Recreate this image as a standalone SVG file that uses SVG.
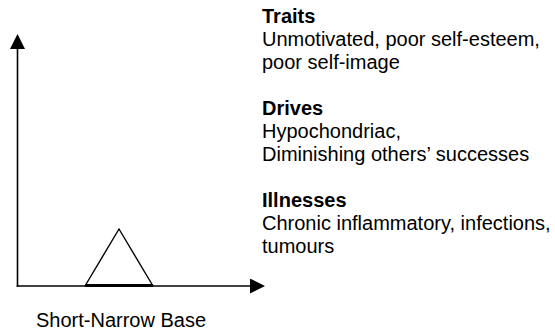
<svg xmlns="http://www.w3.org/2000/svg" width="555" height="332" viewBox="0 0 555 332">
<style>
.ax{stroke:#000;stroke-width:1.6;fill:none}
.t{font-family:"Liberation Sans",Arial,sans-serif;font-size:20px;fill:#000}
.b{font-weight:bold}
</style>
<defs>
<marker id="ah" markerWidth="16" markerHeight="16" refX="0" refY="7.5" orient="auto" markerUnits="userSpaceOnUse" viewBox="0 0 16 16">
<path d="M0,0 L15,7.5 L0,15 Z" fill="#000"/>
</marker>
</defs>
<rect width="555" height="332" fill="#fff"/>
<g id="connectors">
<line class="ax" x1="17.5" y1="286.8" x2="17.5" y2="49" marker-end="url(#ah)"/>
<line class="ax" x1="16.7" y1="286" x2="250" y2="286" marker-end="url(#ah)"/>
</g>
<g id="triangle">
<path d="M85,286 L119,229 L153,286" fill="none" stroke="#000" stroke-width="1.4" stroke-linejoin="miter"/>
<line x1="85" y1="285.5" x2="153" y2="285.5" stroke="#000" stroke-width="2.8"/>
</g>
<g id="label-base">
<text class="t" x="36" y="326.5">Short-Narrow Base</text>
</g>
<g id="traits">
<text class="t b" x="262" y="23.3">Traits</text>
<text class="t" x="262" y="46.2">Unmotivated, poor self-esteem,</text>
<text class="t" x="262" y="69.1">poor self-image</text>
</g>
<g id="drives">
<text class="t b" x="262" y="115">Drives</text>
<text class="t" x="262" y="137.9">Hypochondriac,</text>
<text class="t" x="262" y="160.8">Diminishing others’ successes</text>
</g>
<g id="illnesses">
<text class="t b" x="262" y="206.7">Illnesses</text>
<text class="t" x="262" y="229.6">Chronic inflammatory, infections,</text>
<text class="t" x="262" y="252.5">tumours</text>
</g>
</svg>
